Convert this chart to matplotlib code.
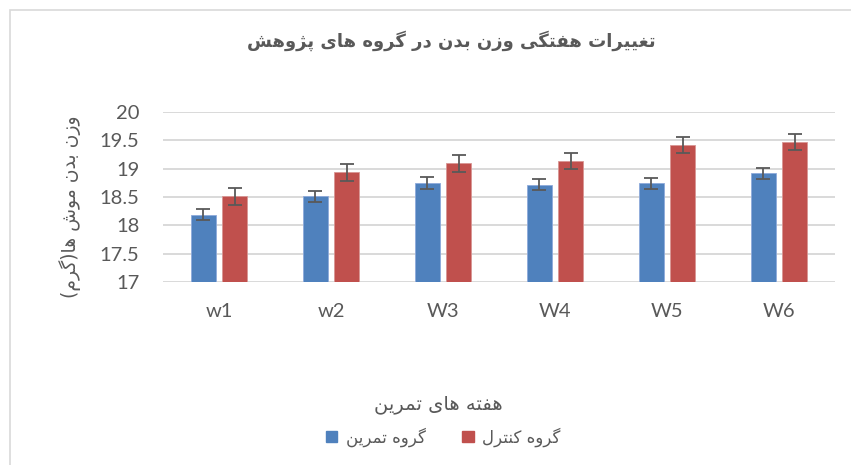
import numpy as np
import matplotlib
matplotlib.use("Agg")
import matplotlib.pyplot as plt
from matplotlib.patches import Patch, Rectangle

# data
weeks = ["w1", "w2", "W3", "W4", "W5", "W6"]
train_mean = [18.19, 18.51, 18.75, 18.72, 18.74, 18.92]
train_err = [0.10, 0.10, 0.11, 0.10, 0.10, 0.10]
ctrl_mean = [18.51, 18.94, 19.10, 19.13, 19.42, 19.47]
ctrl_err = [0.15, 0.15, 0.15, 0.14, 0.14, 0.14]

title_txt = "تغییرات هفتگی وزن بدن در گروه های پژوهش"
ylabel_txt = "وزن بدن موش ها(گرم)"
xlabel_txt = "هفته های تمرین"
train_lbl = "گروه تمرین"
ctrl_lbl = "گروه کنترل"

# matplotlib has no arabic shaping, so map letters to presentation forms
# (isolated, final, initial, medial) and lay them out visually
FORMS = {
    "\u0627": ("\uFE8D", "\uFE8E", None, None),
    "\u0628": ("\uFE8F", "\uFE90", "\uFE91", "\uFE92"),
    "\u067E": ("\uFB56", "\uFB57", "\uFB58", "\uFB59"),
    "\u062A": ("\uFE95", "\uFE96", "\uFE97", "\uFE98"),
    "\u062F": ("\uFEA9", "\uFEAA", None, None),
    "\u0631": ("\uFEAD", "\uFEAE", None, None),
    "\u0632": ("\uFEAF", "\uFEB0", None, None),
    "\u0698": ("\uFB8A", "\uFB8B", None, None),
    "\u0633": ("\uFEB1", "\uFEB2", "\uFEB3", "\uFEB4"),
    "\u0634": ("\uFEB5", "\uFEB6", "\uFEB7", "\uFEB8"),
    "\u063A": ("\uFECD", "\uFECE", "\uFECF", "\uFED0"),
    "\u0641": ("\uFED1", "\uFED2", "\uFED3", "\uFED4"),
    "\u06A9": ("\uFB8E", "\uFB8F", "\uFB90", "\uFB91"),
    "\u06AF": ("\uFB92", "\uFB93", "\uFB94", "\uFB95"),
    "\u0644": ("\uFEDD", "\uFEDE", "\uFEDF", "\uFEE0"),
    "\u0645": ("\uFEE1", "\uFEE2", "\uFEE3", "\uFEE4"),
    "\u0646": ("\uFEE5", "\uFEE6", "\uFEE7", "\uFEE8"),
    "\u0647": ("\uFEE9", "\uFEEA", "\uFEEB", "\uFEEC"),
    "\u0648": ("\uFEED", "\uFEEE", None, None),
    "\u06CC": ("\uFEEF", "\uFEF0", "\uFEF3", "\uFEF4"),
}
MIRROR = {"(": ")", ")": "("}


def shape(s):
    out = []
    for i, ch in enumerate(s):
        if ch not in FORMS:
            out.append(MIRROR.get(ch, ch))
            continue
        prev = s[i - 1] if i > 0 else ""
        nxt = s[i + 1] if i + 1 < len(s) else ""
        join_prev = prev in FORMS and FORMS[prev][2] is not None
        join_next = nxt in FORMS and FORMS[ch][2] is not None
        iso, fin, ini, med = FORMS[ch]
        if join_prev and join_next:
            out.append(med)
        elif join_prev:
            out.append(fin)
        elif join_next:
            out.append(ini)
        else:
            out.append(iso)
    return "".join(reversed(out))


grey = "#595959"
fa_font = ["DejaVu Sans"]
plt.rcParams["font.family"] = ["Lato", "DejaVu Sans"]

fig = plt.figure(figsize=(8.51, 4.65), dpi=100)
fig.patches.append(Rectangle((10 / 851, -0.1), 1.2, 1 - 10 / 465 + 0.1,
                             transform=fig.transFigure, fill=False,
                             edgecolor="#D9D9D9", linewidth=1.2))

ax = fig.add_axes([163 / 851, 1 - 282 / 465, 672 / 851, 170 / 465])
x = np.arange(len(weeks))
w = 0.22
ax.bar(x - 0.14, train_mean, w, color="#4F81BD", edgecolor="#8EAADB", linewidth=0.6,
       yerr=train_err, capsize=5, error_kw=dict(ecolor=grey, elinewidth=1.3, capthick=1.3),
       zorder=3)
ax.bar(x + 0.14, ctrl_mean, w, color="#C0504D", edgecolor="#D99694", linewidth=0.6,
       yerr=ctrl_err, capsize=5, error_kw=dict(ecolor=grey, elinewidth=1.3, capthick=1.3),
       zorder=3)

ax.set_ylim(17, 20)
ax.set_xlim(-0.5, len(weeks) - 0.5)
ax.set_yticks(np.arange(17, 20.01, 0.5))
ax.set_yticklabels(["17", "17.5", "18", "18.5", "19", "19.5", "20"])
ax.set_xticks(x)
ax.set_xticklabels(weeks)
ax.tick_params(length=0, labelsize=14.5, colors=grey)
ax.tick_params(axis="y", pad=17)
ax.tick_params(axis="x", pad=15)
ax.grid(axis="y", color="#D9D9D9", linewidth=1.4, zorder=0)
for sp in ax.spines.values():
    sp.set_visible(False)

fig.text(451 / 851, 1 - 41 / 465, shape(title_txt), family=fa_font, fontsize=13,
         fontweight="bold", color=grey, ha="center", va="center")
fig.text(70 / 851, 1 - 207 / 465, shape(ylabel_txt), family=fa_font, fontsize=13.5,
         color=grey, ha="center", va="center", rotation=90)
fig.text(438 / 851, 1 - 404 / 465, shape(xlabel_txt), family=fa_font, fontsize=14,
         color=grey, ha="center", va="center")

handles = [Patch(color="#4F81BD"), Patch(color="#C0504D")]
fig.legend(handles, [shape(train_lbl), shape(ctrl_lbl)], loc="center",
           bbox_to_anchor=(443 / 851, 1 - 437 / 465), ncol=2, frameon=False,
           prop=dict(family=fa_font, size=12), labelcolor=grey,
           handlelength=0.7, handleheight=0.7, handletextpad=0.5, columnspacing=2.2)

fig.savefig("out.png", dpi=100)
